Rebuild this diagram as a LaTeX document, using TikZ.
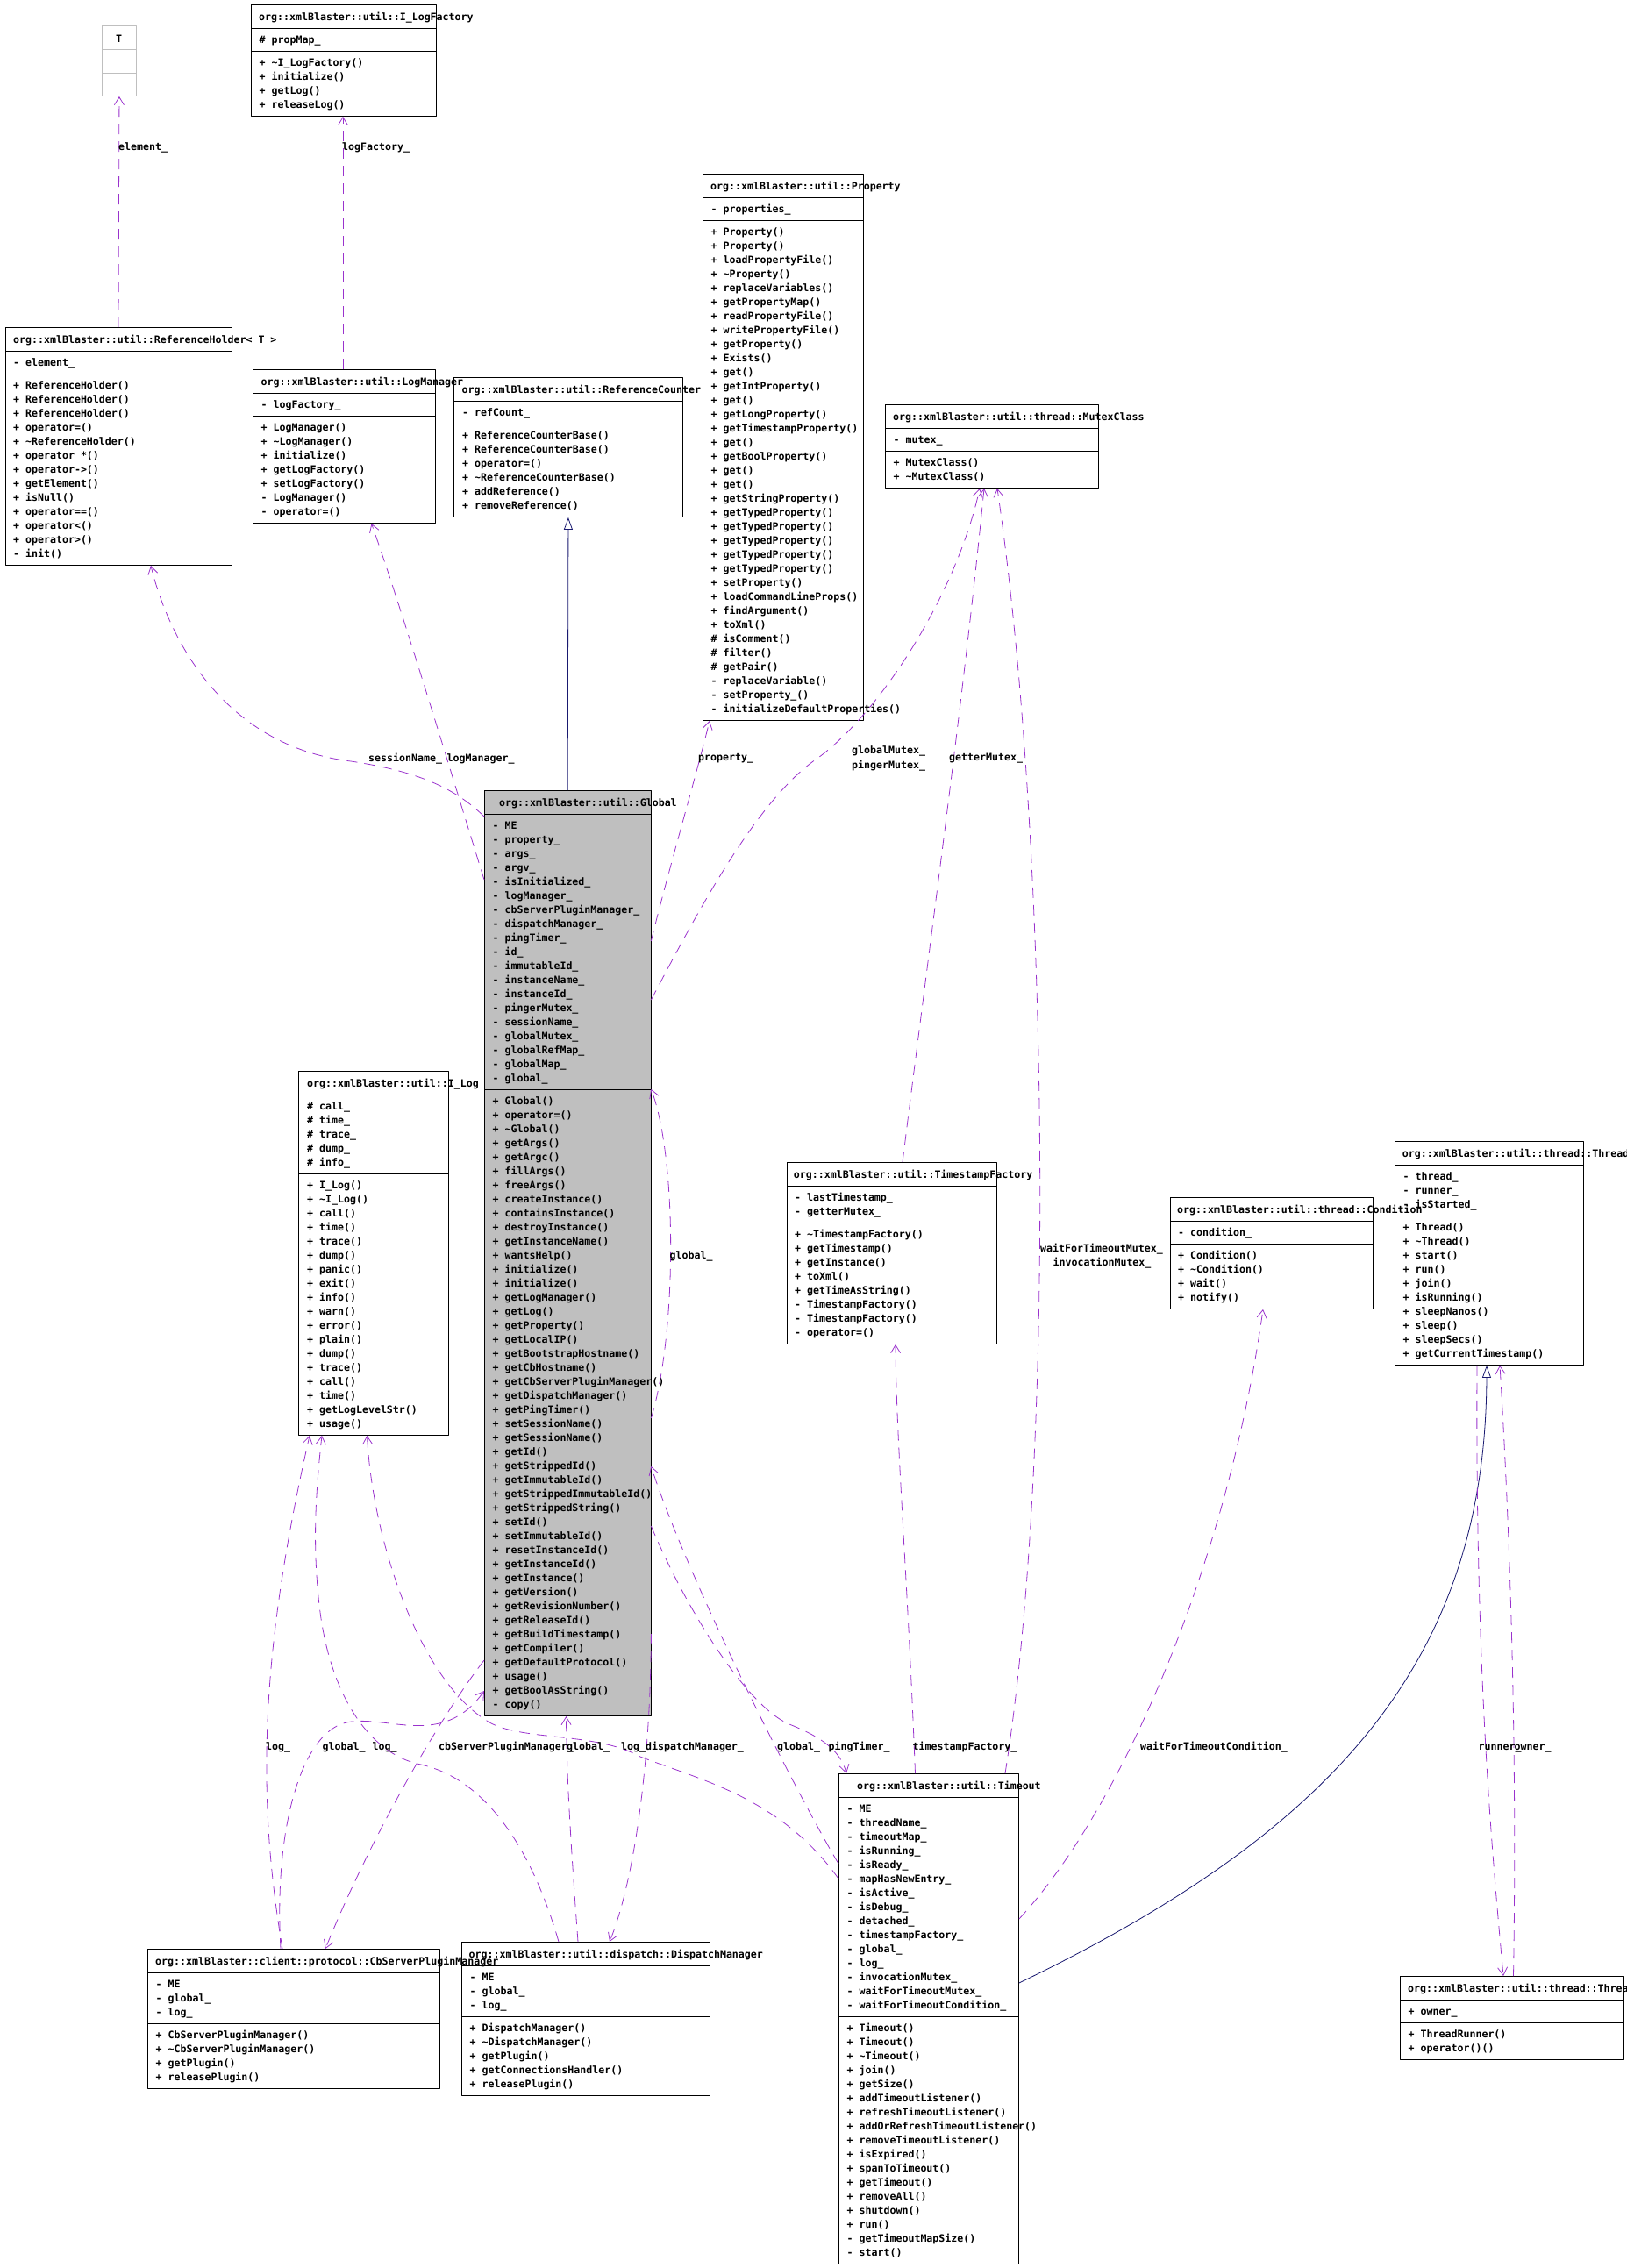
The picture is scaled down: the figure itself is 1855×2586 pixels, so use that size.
\documentclass[tikz,border=0pt]{standalone}
\usepackage{fontspec}
\newfontfamily\dxfont{DejaVu Sans Mono}
\usepackage{xcolor}
\usepackage{tikz}
\usetikzlibrary{arrows.meta,calc}
\definecolor{usecol}{HTML}{9A32CD}
\definecolor{inhcol}{HTML}{191970}
\definecolor{globgray}{HTML}{BFBFBF}

\begin{document}
\begin{tikzpicture}[x=1pt,y=-1pt,line join=round,
  cls/.style={draw=black,line width=0.9pt,inner sep=0pt,anchor=north west},
  txt/.style={font={\dxfont\bfseries\fontsize{11.6}{16}\selectfont},inner sep=0pt,anchor=base west},
  lbl/.style={txt},
  use/.style={draw=usecol,line width=0.8pt,dash pattern=on 12pt off 8pt,-{Straight Barb[length=9pt,width=11pt]}},
  inh/.style={draw=inhcol,line width=0.8pt,-{Triangle[length=14pt,width=10pt,fill=white]}}]
  \useasboundingbox (0,0) rectangle (1855,2586);

  \node[cls,draw=globgray,minimum width=39pt,minimum height=80pt] (t) at (116,29) {};
  \draw[cls,draw=globgray] (t.north west) ++(0,27) -- ++(39,0) (t.north west) ++(0,54) -- ++(39,0);
  \node[txt,anchor=base] (t-t) at (135.5,48) {T};

  \node[cls,minimum width=211pt,minimum height=127pt] (ilf) at (286,5) {};
  \draw[cls] (ilf.north west) ++(0,27) -- ++(211,0) (ilf.north west) ++(0,53) -- ++(211,0);
  \node[txt] (ilf-t) at (295,23) {org::xmlBlaster::util::I\_LogFactory};
  \foreach \s [count=\i] in {\# propMap\_}
    \node[txt] (ilf-a\i) at (295.5,33+16*\i) {\s};
  \foreach \s [count=\i] in {+ \textasciitilde I\_LogFactory(), + initialize(), + getLog(), + releaseLog()}
    \node[txt] (ilf-o\i) at (295.5,59+16*\i) {\s};

  \node[cls,minimum width=258pt,minimum height=271pt] (rh) at (6,373) {};
  \draw[cls] (rh.north west) ++(0,27) -- ++(258,0) (rh.north west) ++(0,53) -- ++(258,0);
  \node[txt] (rh-t) at (15,391) {org::xmlBlaster::util::ReferenceHolder< T >};
  \foreach \s [count=\i] in {- element\_}
    \node[txt] (rh-a\i) at (15,401+16*\i) {\s};
  \foreach \s [count=\i] in {+ ReferenceHolder(), + ReferenceHolder(), + ReferenceHolder(), + operator=(), + \textasciitilde ReferenceHolder(), + operator *(), + operator->(), + getElement(), + isNull(), + operator==(), + operator<(), + operator>(), - init()}
    \node[txt] (rh-o\i) at (15,427+16*\i) {\s};

  \node[cls,minimum width=208pt,minimum height=175pt] (lm) at (288,421) {};
  \draw[cls] (lm.north west) ++(0,27) -- ++(208,0) (lm.north west) ++(0,53) -- ++(208,0);
  \node[txt] (lm-t) at (297.5,439) {org::xmlBlaster::util::LogManager};
  \foreach \s [count=\i] in {- logFactory\_}
    \node[txt] (lm-a\i) at (297.5,449+16*\i) {\s};
  \foreach \s [count=\i] in {+ LogManager(), + \textasciitilde LogManager(), + initialize(), + getLogFactory(), + setLogFactory(), - LogManager(), - operator=()}
    \node[txt] (lm-o\i) at (297.5,475+16*\i) {\s};

  \node[cls,minimum width=261pt,minimum height=159pt] (rcb) at (517,430) {};
  \draw[cls] (rcb.north west) ++(0,27) -- ++(261,0) (rcb.north west) ++(0,53) -- ++(261,0);
  \node[txt] (rcb-t) at (526.5,448) {org::xmlBlaster::util::ReferenceCounter};
  \foreach \s [count=\i] in {- refCount\_}
    \node[txt] (rcb-a\i) at (527,458+16*\i) {\s};
  \foreach \s [count=\i] in {+ ReferenceCounterBase(), + ReferenceCounterBase(), + operator=(), + \textasciitilde ReferenceCounterBase(), + addReference(), + removeReference()}
    \node[txt] (rcb-o\i) at (527,484+16*\i) {\s};

  \node[cls,minimum width=183pt,minimum height=623pt] (prop) at (801,198) {};
  \draw[cls] (prop.north west) ++(0,27) -- ++(183,0) (prop.north west) ++(0,53) -- ++(183,0);
  \node[txt] (prop-t) at (810,216) {org::xmlBlaster::util::Property};
  \foreach \s [count=\i] in {- properties\_}
    \node[txt] (prop-a\i) at (810.5,226+16*\i) {\s};
  \foreach \s [count=\i] in {+ Property(), + Property(), + loadPropertyFile(), + \textasciitilde Property(), + replaceVariables(), + getPropertyMap(), + readPropertyFile(), + writePropertyFile(), + getProperty(), + Exists(), + get(), + getIntProperty(), + get(), + getLongProperty(), + getTimestampProperty(), + get(), + getBoolProperty(), + get(), + get(), + getStringProperty(), + getTypedProperty(), + getTypedProperty(), + getTypedProperty(), + getTypedProperty(), + getTypedProperty(), + setProperty(), + loadCommandLineProps(), + findArgument(), + toXml(), \# isComment(), \# filter(), \# getPair(), - replaceVariable(), - setProperty\_(), - initializeDefaultProperties()}
    \node[txt] (prop-o\i) at (810.5,252+16*\i) {\s};

  \node[cls,minimum width=243pt,minimum height=95pt] (mtx) at (1009,461) {};
  \draw[cls] (mtx.north west) ++(0,27) -- ++(243,0) (mtx.north west) ++(0,53) -- ++(243,0);
  \node[txt] (mtx-t) at (1018,479) {org::xmlBlaster::util::thread::MutexClass};
  \foreach \s [count=\i] in {- mutex\_}
    \node[txt] (mtx-a\i) at (1018.5,489+16*\i) {\s};
  \foreach \s [count=\i] in {+ MutexClass(), + \textasciitilde MutexClass()}
    \node[txt] (mtx-o\i) at (1018.5,515+16*\i) {\s};

  \node[cls,minimum width=171pt,minimum height=415pt] (ilog) at (340,1221) {};
  \draw[cls] (ilog.north west) ++(0,27) -- ++(171,0) (ilog.north west) ++(0,117) -- ++(171,0);
  \node[txt] (ilog-t) at (350,1239) {org::xmlBlaster::util::I\_Log};
  \foreach \s [count=\i] in {\# call\_, \# time\_, \# trace\_, \# dump\_, \# info\_}
    \node[txt] (ilog-a\i) at (350,1249+16*\i) {\s};
  \foreach \s [count=\i] in {+ I\_Log(), + \textasciitilde I\_Log(), + call(), + time(), + trace(), + dump(), + panic(), + exit(), + info(), + warn(), + error(), + plain(), + dump(), + trace(), + call(), + time(), + getLogLevelStr(), + usage()}
    \node[txt] (ilog-o\i) at (350,1339+16*\i) {\s};

  \node[cls,fill=globgray,minimum width=189.5pt,minimum height=1055pt] (glob) at (552,901) {};
  \draw[cls] (glob.north west) ++(0,27) -- ++(189.5,0) (glob.north west) ++(0,341) -- ++(189.5,0);
  \node[txt] (glob-t) at (569,919) {org::xmlBlaster::util::Global};
  \foreach \s [count=\i] in {- ME, - property\_, - args\_, - argv\_, - isInitialized\_, - logManager\_, - cbServerPluginManager\_, - dispatchManager\_, - pingTimer\_, - id\_, - immutableId\_, - instanceName\_, - instanceId\_, - pingerMutex\_, - sessionName\_, - globalMutex\_, - globalRefMap\_, - globalMap\_, - global\_}
    \node[txt] (glob-a\i) at (561.5,929+16*\i) {\s};
  \foreach \s [count=\i] in {+ Global(), + operator=(), + \textasciitilde Global(), + getArgs(), + getArgc(), + fillArgs(), + freeArgs(), + createInstance(), + containsInstance(), + destroyInstance(), + getInstanceName(), + wantsHelp(), + initialize(), + initialize(), + getLogManager(), + getLog(), + getProperty(), + getLocalIP(), + getBootstrapHostname(), + getCbHostname(), + getCbServerPluginManager(), + getDispatchManager(), + getPingTimer(), + setSessionName(), + getSessionName(), + getId(), + getStrippedId(), + getImmutableId(), + getStrippedImmutableId(), + getStrippedString(), + setId(), + setImmutableId(), + resetInstanceId(), + getInstanceId(), + getInstance(), + getVersion(), + getRevisionNumber(), + getReleaseId(), + getBuildTimestamp(), + getCompiler(), + getDefaultProtocol(), + usage(), + getBoolAsString(), - copy()}
    \node[txt] (glob-o\i) at (561.5,1243+16*\i) {\s};

  \node[cls,minimum width=239pt,minimum height=207pt] (tsf) at (897,1325) {};
  \draw[cls] (tsf.north west) ++(0,27) -- ++(239,0) (tsf.north west) ++(0,69) -- ++(239,0);
  \node[txt] (tsf-t) at (904.7,1343) {org::xmlBlaster::util::TimestampFactory};
  \foreach \s [count=\i] in {- lastTimestamp\_, - getterMutex\_}
    \node[txt] (tsf-a\i) at (906,1353+16*\i) {\s};
  \foreach \s [count=\i] in {+ \textasciitilde TimestampFactory(), + getTimestamp(), + getInstance(), + toXml(), + getTimeAsString(), - TimestampFactory(), - TimestampFactory(), - operator=()}
    \node[txt] (tsf-o\i) at (906,1395+16*\i) {\s};

  \node[cls,minimum width=215pt,minimum height=255pt] (thr) at (1590,1301) {};
  \draw[cls] (thr.north west) ++(0,27) -- ++(215,0) (thr.north west) ++(0,85) -- ++(215,0);
  \node[txt] (thr-t) at (1598.7,1319) {org::xmlBlaster::util::thread::Thread};
  \foreach \s [count=\i] in {- thread\_, - runner\_, - isStarted\_}
    \node[txt] (thr-a\i) at (1599.5,1329+16*\i) {\s};
  \foreach \s [count=\i] in {+ Thread(), + \textasciitilde Thread(), + start(), + run(), + join(), + isRunning(), + sleepNanos(), + sleep(), + sleepSecs(), + getCurrentTimestamp()}
    \node[txt] (thr-o\i) at (1599.5,1387+16*\i) {\s};

  \node[cls,minimum width=231pt,minimum height=127pt] (cond) at (1334,1365) {};
  \draw[cls] (cond.north west) ++(0,27) -- ++(231,0) (cond.north west) ++(0,53) -- ++(231,0);
  \node[txt] (cond-t) at (1342,1383) {org::xmlBlaster::util::thread::Condition};
  \foreach \s [count=\i] in {- condition\_}
    \node[txt] (cond-a\i) at (1343,1393+16*\i) {\s};
  \foreach \s [count=\i] in {+ Condition(), + \textasciitilde Condition(), + wait(), + notify()}
    \node[txt] (cond-o\i) at (1343,1419+16*\i) {\s};

  \node[cls,minimum width=283pt,minimum height=175pt] (dsp) at (526,2214) {};
  \draw[cls] (dsp.north west) ++(0,27) -- ++(283,0) (dsp.north west) ++(0,85) -- ++(283,0);
  \node[txt] (dsp-t) at (534.5,2232) {org::xmlBlaster::util::dispatch::DispatchManager};
  \foreach \s [count=\i] in {- ME, - global\_, - log\_}
    \node[txt] (dsp-a\i) at (535.5,2242+16*\i) {\s};
  \foreach \s [count=\i] in {+ DispatchManager(), + \textasciitilde DispatchManager(), + getPlugin(), + getConnectionsHandler(), + releasePlugin()}
    \node[txt] (dsp-o\i) at (535.5,2300+16*\i) {\s};

  \node[cls,minimum width=333pt,minimum height=159pt] (cbm) at (168,2222) {};
  \draw[cls] (cbm.north west) ++(0,27) -- ++(333,0) (cbm.north west) ++(0,85) -- ++(333,0);
  \node[txt] (cbm-t) at (177,2240) {org::xmlBlaster::client::protocol::CbServerPluginManager};
  \foreach \s [count=\i] in {- ME, - global\_, - log\_}
    \node[txt] (cbm-a\i) at (177.5,2250+16*\i) {\s};
  \foreach \s [count=\i] in {+ CbServerPluginManager(), + \textasciitilde CbServerPluginManager(), + getPlugin(), + releasePlugin()}
    \node[txt] (cbm-o\i) at (177.5,2308+16*\i) {\s};

  \node[cls,minimum width=205pt,minimum height=559pt] (tmo) at (956,2022) {};
  \draw[cls] (tmo.north west) ++(0,27) -- ++(205,0) (tmo.north west) ++(0,277) -- ++(205,0);
  \node[txt] (tmo-t) at (977,2040) {org::xmlBlaster::util::Timeout};
  \foreach \s [count=\i] in {- ME, - threadName\_, - timeoutMap\_, - isRunning\_, - isReady\_, - mapHasNewEntry\_, - isActive\_, - isDebug\_, - detached\_, - timestampFactory\_, - global\_, - log\_, - invocationMutex\_, - waitForTimeoutMutex\_, - waitForTimeoutCondition\_}
    \node[txt] (tmo-a\i) at (965.5,2050+16*\i) {\s};
  \foreach \s [count=\i] in {+ Timeout(), + Timeout(), + \textasciitilde Timeout(), + join(), + getSize(), + addTimeoutListener(), + refreshTimeoutListener(), + addOrRefreshTimeoutListener(), + removeTimeoutListener(), + isExpired(), + spanToTimeout(), + getTimeout(), + removeAll(), + shutdown(), + run(), - getTimeoutMapSize(), - start()}
    \node[txt] (tmo-o\i) at (965.5,2300+16*\i) {\s};

  \node[cls,minimum width=255pt,minimum height=95pt] (thrr) at (1596,2253) {};
  \draw[cls] (thrr.north west) ++(0,27) -- ++(255,0) (thrr.north west) ++(0,53) -- ++(255,0);
  \node[txt] (thrr-t) at (1605,2271) {org::xmlBlaster::util::thread::ThreadRunner};
  \foreach \s [count=\i] in {+ owner\_}
    \node[txt] (thrr-a\i) at (1605.5,2281+16*\i) {\s};
  \foreach \s [count=\i] in {+ ThreadRunner(), + operator()()}
    \node[txt] (thrr-o\i) at (1605.5,2307+16*\i) {\s};

  \draw[use] ([shift={(129,0)}]rh.north west) -- (t.south);
  \draw[use] ([shift={(103,0)}]lm.north west) -- ([shift={(105,0)}]ilf.south west);
  \draw[use] ([shift={(0,30)}]glob.north west) .. controls (520,900) and (480,880) .. (400,868) .. controls (250,850) and (190,720) .. ([shift={(166,0)}]rh.south west);
  \draw[use] ([shift={(0,102)}]glob.north west) .. controls (520,900) and (460,700) .. ([shift={(135.5,0)}]lm.south west);
  \draw[inh] (glob.north) -- (rcb.south);
  \draw[use] ([shift={(0,172)}]glob.north east) .. controls (760,1000) and (795,880) .. ([shift={(8,0)}]prop.south west);
  \draw[use] ([shift={(0,239)}]glob.north east) .. controls (790,1050) and (860,915) .. (930,866) .. controls (1000,817) and (1090,680) .. ([shift={(108,0)}]mtx.south west);
  \draw[use] ([shift={(132,0)}]tsf.north west) .. controls (1062,1060) and (1098,800) .. ([shift={(113,0)}]mtx.south west);
  \draw[use] ([shift={(190,0)}]tmo.north west) .. controls (1205,1650) and (1195,950) .. ([shift={(128,0)}]mtx.south west);
  \draw[use] ([shift={(0,716)}]glob.north east) .. controls (772,1520) and (772,1320) .. ([shift={(0,341)}]glob.north east);
  \draw[use] ([shift={(154,0)}]cbm.north west) .. controls (295,2060) and (293,1900) .. ([shift={(13,0)}]ilog.south west);
  \draw[use] ([shift={(152,0)}]cbm.north west) .. controls (312,2080) and (345,1975) .. (395,1964) .. controls (440,1954) and (505,1995) .. ([shift={(0,1027)}]glob.north west);
  \draw[use] ([shift={(0,992)}]glob.north west) .. controls (500,1960) and (420,2100) .. ([shift={(203,0)}]cbm.north west);
  \draw[use] ([shift={(111,0)}]dsp.north west) .. controls (610,2120) and (560,2030) .. (480,2012) .. controls (420,2000) and (375,1930) .. (364,1830) .. controls (356,1760) and (360,1700) .. ([shift={(27,0)}]ilog.south west);
  \draw[use] ([shift={(133,0)}]dsp.north west) .. controls (652,2120) and (646,2030) .. ([shift={(93.5,0)}]glob.south west);
  \draw[use] ([shift={(0,962)}]glob.north east) .. controls (742,2000) and (725,2140) .. ([shift={(169,0)}]dsp.north west);
  \draw[use] ([shift={(0,120)}]tmo.north west) .. controls (890,2050) and (800,2030) .. (730,2003) .. controls (680,1975) and (600,1985) .. (560,1965) .. controls (480,1920) and (425,1760) .. ([shift={(78.5,0)}]ilog.south west);
  \draw[use] ([shift={(0,103)}]tmo.north west) .. controls (900,2030) and (780,1790) .. ([shift={(0,771)}]glob.north east);
  \draw[use] ([shift={(0,839)}]glob.north east) .. controls (780,1830) and (850,1945) .. (900,1966) .. controls (935,1980) and (958,1995) .. ([shift={(9,0)}]tmo.north west);
  \draw[use] ([shift={(87.5,0)}]tmo.north west) .. controls (1035,1800) and (1022,1650) .. ([shift={(124,0)}]tsf.south west);
  \draw[use] ([shift={(0,166)}]tmo.north east) .. controls (1280,2060) and (1400,1780) .. ([shift={(106,0)}]cond.south west);
  \draw[inh] ([shift={(0,239)}]tmo.north east) .. controls (1516,2090) and (1694,1897) .. ([shift={(105,0)}]thr.south west);
  \draw[use] ([shift={(94,0)}]thr.south west) .. controls (1682,1900) and (1700,2100) .. ([shift={(118,0)}]thrr.north west);
  \draw[use] ([shift={(129.5,0)}]thrr.north west) .. controls (1730,2000) and (1722,1750) .. ([shift={(120,0)}]thr.south west);

  \node[lbl] (l-elem) at (135,171) {element\_};
  \node[lbl] (l-logf) at (390,171) {logFactory\_};
  \node[lbl] (l-sess) at (420,868) {sessionName\_};
  \node[lbl] (l-logm) at (509.5,868) {logManager\_};
  \node[lbl] (l-prop) at (796,867) {property\_};
  \node[lbl] (l-gmtx) at (971,859) {globalMutex\_};
  \node[lbl] (l-pmtx) at (971,876) {pingerMutex\_};
  \node[lbl] (l-gtmx) at (1082,867) {getterMutex\_};
  \node[lbl] (l-self) at (763.5,1435) {global\_};
  \node[lbl] (l-wtmx) at (1186,1427) {waitForTimeoutMutex\_};
  \node[lbl] (l-invm) at (1200.5,1443) {invocationMutex\_};
  \node[lbl] (l-clog) at (303,1995.5) {log\_};
  \node[lbl] (l-cglb) at (367.5,1995.5) {global\_};
  \node[lbl] (l-dlog) at (424.5,1995.5) {log\_};
  \node[lbl] (l-gcbm) at (500,1995.5) {cbServerPluginManager\_};
  \node[lbl] (l-dglb) at (646,1995.5) {global\_};
  \node[lbl] (l-tlog) at (708,1995.5) {log\_};
  \node[lbl] (l-gdsp) at (736,1995.5) {dispatchManager\_};
  \node[lbl] (l-tglb) at (886,1995.5) {global\_};
  \node[lbl] (l-ping) at (944.5,1995.5) {pingTimer\_};
  \node[lbl] (l-tsf) at (1040.5,1995.5) {timestampFactory\_};
  \node[lbl] (l-wcnd) at (1300,1995.5) {waitForTimeoutCondition\_};
  \node[lbl] (l-runr) at (1685.5,1995.5) {runner\_};
  \node[lbl] (l-ownr) at (1726.5,1995.5) {owner\_};
\end{tikzpicture}
\end{document}
